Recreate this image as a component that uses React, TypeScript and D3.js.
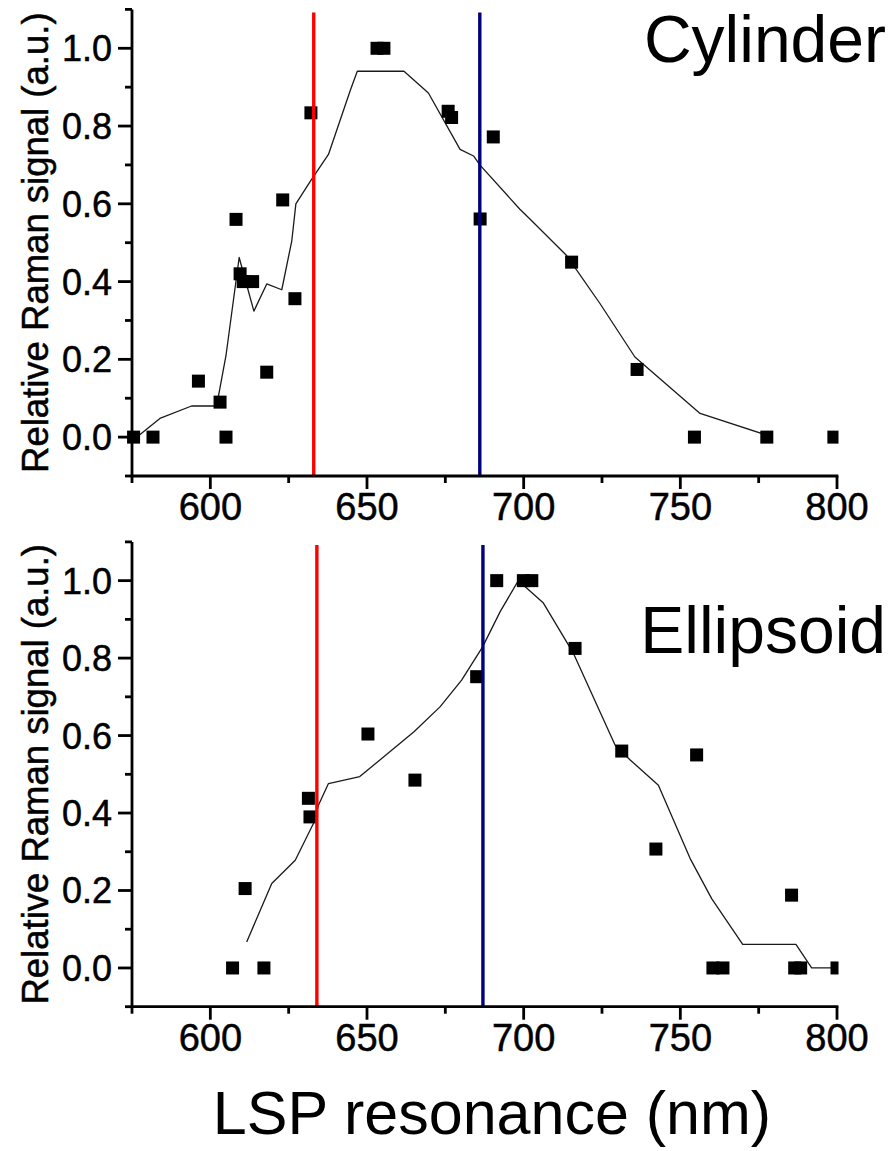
import React from "react";
import * as d3 from "d3";

// Measured Raman enhancement vs. localized surface plasmon (LSP) resonance
const cylinderX = [575.5, 581.7, 596.2, 603.1, 605, 608.2, 609.5, 610.5, 613.5, 618, 623.1, 627, 632.1, 653.2, 655.4, 675.9, 677.0, 690.3, 686.1, 715.3, 736.2, 754.5, 777.6, 799];
const cylinderY = [0, 0, 0.144, 0.09, 0, 0.56, 0.42, 0.40, 0.40, 0.167, 0.61, 0.356, 0.834, 1.0, 1.0, 0.838, 0.822, 0.772, 0.561, 0.45, 0.174, 0, 0, 0];

// Smoothed trend through the cylinder data
const cylinderTrendX = [575, 583.9, 594, 602, 605, 609.2, 613.9, 618, 622.8, 626, 627.3, 632, 637.7, 644.6, 646.9, 661.8, 669.6, 679.7, 684, 686, 698.8, 702, 713.7, 724.4, 735.5, 756.3, 777.6];
const cylinderTrendY = [-0.01, 0.048, 0.08, 0.08, 0.21, 0.462, 0.324, 0.394, 0.379, 0.505, 0.60, 0.659, 0.727, 0.89, 0.941, 0.941, 0.885, 0.74, 0.723, 0.70, 0.586, 0.561, 0.467, 0.343, 0.206, 0.061, 0.005];

const ellipsoidX = [607.1, 617.1, 611.1, 631.8, 631.3, 650.3, 665.3, 685, 691.4, 699.9, 702.6, 716.4, 731.3, 755.2, 742.2, 785.5, 760.4, 763.6, 786.5, 788.4, 800];
const ellipsoidY = [0, 0, 0.205, 0.39, 0.438, 0.604, 0.485, 0.752, 1.0, 1.0, 1.0, 0.825, 0.56, 0.55, 0.307, 0.188, 0, 0, 0, 0, 0];

// Smoothed trend through the ellipsoid data
const ellipsoidTrendX = [611.6, 619.6, 627.1, 632.9, 634.5, 637.7, 647.7, 665, 673.3, 680.2, 686.9, 692.5, 698.3, 700.4, 706.3, 715.9, 729.2, 734, 743, 753.1, 760, 769.9, 786.9, 791.9, 800];
const ellipsoidTrendY = [0.067, 0.218, 0.278, 0.373, 0.42, 0.476, 0.494, 0.61, 0.674, 0.743, 0.829, 0.92, 1.0, 0.985, 0.942, 0.812, 0.575, 0.537, 0.472, 0.283, 0.179, 0.061, 0.061, 0, 0];

// Excitation wavelengths (nm): red and blue laser lines
const laserLinesTop = [633, 686];
const laserLinesBottom = [634, 687];
const laserColors = ["#ff0000", "#000080"];

const xMajorTicks = [600, 650, 700, 750, 800];
const xMinorTicks = [575, 625, 675, 725, 775];
const yMajorTicks = [0, 0.2, 0.4, 0.6, 0.8, 1.0];
const yMinorTicks = [-0.1, 0.1, 0.3, 0.5, 0.7, 0.9, 1.1];

const yTitle = "Relative Raman signal (a.u.)";
const xTitle = "LSP resonance (nm)";

const FONT = "'Liberation Sans', Arial, Helvetica, sans-serif";

const x = d3.scaleLinear().domain([575, 800]).range([132, 837]);

type PanelProps = {
  y: d3.ScaleLinear<number, number>;
  px: number[];
  py: number[];
  tx: number[];
  ty: number[];
  lasers: number[];
  label: string;
  labelBaseline: number;
  clipId: string;
};

function Panel({ y, px, py, tx, ty, lasers, label, labelBaseline, clipId }: PanelProps) {
  const [x0, x1] = x.range();
  const yBottom = y(-0.1);
  const yTop = y(1.1);
  const trend = d3
    .line<number>()
    .x((d) => x(d))
    .y((_, i) => y(ty[i]))(tx) as string;
  const sq = 13;
  const axisW = 2.8;
  const textStroke = { stroke: "#000", strokeWidth: 0.5 };
  return (
    <g>
      <defs>
        <clipPath id={clipId}>
          <rect x={x0 - 10} y={yTop - 5} width={x1 - x0 + 11.5} height={yBottom - yTop + 10} />
        </clipPath>
      </defs>
      {/* trend line */}
      <path d={trend} fill="none" stroke="#1a1a1a" strokeWidth={1.3} strokeLinejoin="round" />
      {/* data markers */}
      <g clipPath={`url(#${clipId})`}>
        {px.map((v, i) => (
          <rect key={i} x={x(v) - sq / 2} y={y(py[i]) - sq / 2} width={sq} height={sq} fill="#000" />
        ))}
      </g>
      {/* laser lines */}
      {lasers.map((v, i) => (
        <line key={i} x1={x(v)} x2={x(v)} y1={yTop + 3} y2={yBottom} stroke={laserColors[i]} strokeWidth={3.4} />
      ))}
      {/* axes */}
      <line x1={x0} x2={x0} y1={yTop} y2={yBottom + axisW / 2} stroke="#000" strokeWidth={axisW} />
      <line x1={x0 - axisW / 2} x2={x1 + axisW / 2} y1={yBottom} y2={yBottom} stroke="#000" strokeWidth={axisW} />
      {yMajorTicks.map((t) => (
        <g key={`ym${t}`}>
          <line x1={x0 - 14} x2={x0} y1={y(t)} y2={y(t)} stroke="#000" strokeWidth={axisW} />
          <text x={112} y={y(t)} dy="0.36em" textAnchor="end" fontSize={36} fontFamily={FONT} {...textStroke}>
            {d3.format(".1f")(t)}
          </text>
        </g>
      ))}
      {yMinorTicks.map((t) => (
        <line key={`yn${t}`} x1={x0 - 7} x2={x0} y1={y(t)} y2={y(t)} stroke="#000" strokeWidth={axisW} />
      ))}
      {xMajorTicks.map((t) => (
        <g key={`xm${t}`}>
          <line x1={x(t)} x2={x(t)} y1={yBottom} y2={yBottom + 13} stroke="#000" strokeWidth={axisW} />
          <text x={x(t)} y={yBottom + 44} textAnchor="middle" fontSize={38} fontFamily={FONT} {...textStroke}>
            {t}
          </text>
        </g>
      ))}
      {xMinorTicks.map((t) => (
        <line key={`xn${t}`} x1={x(t)} x2={x(t)} y1={yBottom} y2={yBottom + 7} stroke="#000" strokeWidth={axisW} />
      ))}
      <text
        transform={`translate(48, ${(yTop + yBottom) / 2}) rotate(-90)`}
        textAnchor="middle"
        fontSize={36.5}
        fontFamily={FONT}
        {...textStroke}
      >
        {yTitle}
      </text>
      <text x={886} y={labelBaseline} textAnchor="end" fontSize={66} fontFamily={FONT}>
        {label}
      </text>
    </g>
  );
}

export default function App() {
  const yTopPanel = d3.scaleLinear().domain([-0.1, 1.1]).range([476, 9.4]);
  const yBottomPanel = d3.scaleLinear().domain([-0.1, 1.1]).range([1006.7, 541.9]);
  return (
    <svg
      width={892}
      height={1151}
      viewBox="0 0 892 1151"
      style={{ position: "absolute", left: 0, top: 0, background: "#fff" }}
    >
      <rect width={892} height={1151} fill="#fff" />
      <Panel
        y={yTopPanel}
        px={cylinderX}
        py={cylinderY}
        tx={cylinderTrendX}
        ty={cylinderTrendY}
        lasers={laserLinesTop}
        label="Cylinder"
        labelBaseline={62}
        clipId="clip-cyl"
      />
      <Panel
        y={yBottomPanel}
        px={ellipsoidX}
        py={ellipsoidY}
        tx={ellipsoidTrendX}
        ty={ellipsoidTrendY}
        lasers={laserLinesBottom}
        label="Ellipsoid"
        labelBaseline={653}
        clipId="clip-ell"
      />
      <text x={492} y={1134} textAnchor="middle" fontSize={61} fontFamily={FONT}>
        {xTitle}
      </text>
    </svg>
  );
}
